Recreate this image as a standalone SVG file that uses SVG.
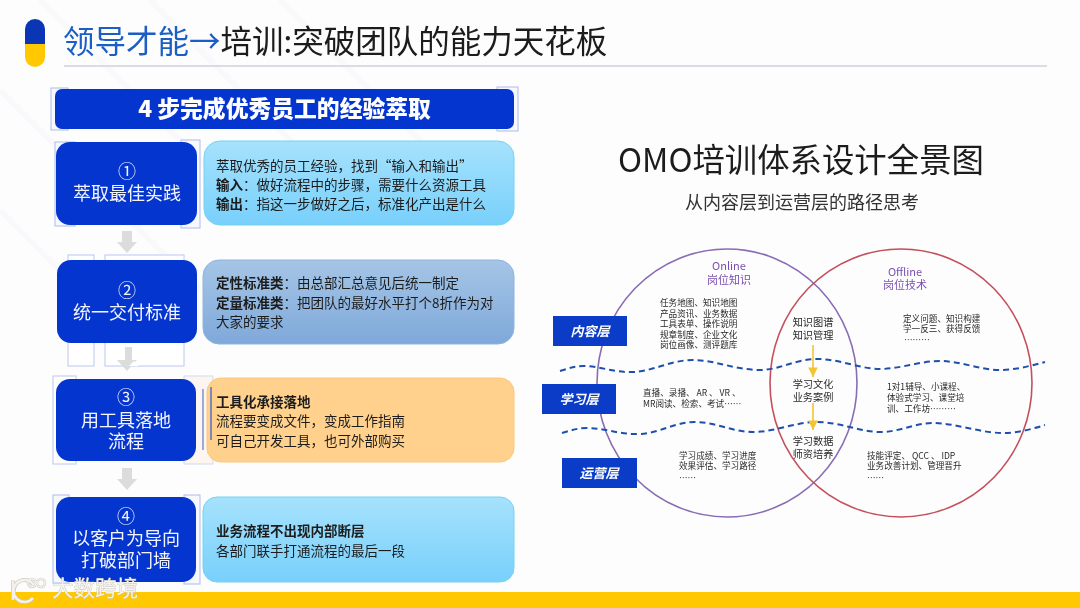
<svg xmlns="http://www.w3.org/2000/svg" width="1080" height="608" viewBox="0 0 1080 608">
<style>
text{font-family:"Noto Sans CJK SC","Noto Sans",sans-serif;filter:url(#soft)}
.step{fill:#0535cf}
.st{fill:#f2f5ff;font-size:18px;text-anchor:middle}
.d{fill:#1c1c1c;font-size:13.5px}
.b{font-weight:700}
.s{fill:#2a2a2a;font-size:8.6px}
.m{fill:#2a2a2a;font-size:10.2px;text-anchor:middle}
.layer{fill:#0a3cc8}
.lt{fill:#fff;font-size:13px;font-weight:700;font-style:italic;text-anchor:middle}
.p{fill:#7a4fb0;font-size:11px;text-anchor:middle}
.h{fill:#f6f8fe;stroke:#aebce8;stroke-width:1}
.hw{fill:#fff;stroke:#bcc8ec;stroke-width:1}
.ar{fill:#dcdcdc}
.wave{fill:none;stroke:#1f4fae;stroke-width:2;stroke-dasharray:6 4}
.y{stroke:#f4c430;stroke-width:1.6;fill:none;marker-end:url(#yh)}
</style>
<defs>
<filter id="soft" x="-5%" y="-20%" width="110%" height="140%"><feGaussianBlur stdDeviation="0.35"/></filter>
<linearGradient id="g1" x1="0" y1="0" x2="0" y2="1"><stop offset="0" stop-color="#a6e2fd"/><stop offset="1" stop-color="#78d0fb"/></linearGradient>
<linearGradient id="g2" x1="0" y1="0" x2="0" y2="1"><stop offset="0" stop-color="#a5c5e6"/><stop offset="1" stop-color="#7fa9da"/></linearGradient>
<marker id="yh" markerWidth="7" markerHeight="6" refX="6" refY="3" orient="auto"><path d="M0 0L6 3L0 6Z" fill="#f4c430"/></marker>
</defs>
<rect width="1080" height="608" fill="#fdfdfe"/>
<g id="background-stripes" stroke="#f9f9fb" stroke-width="6" fill="none">
<path d="M40 0L240 200M150 0L350 200M0 90L200 290M280 0L500 220M0 210L130 340"/>
</g>
<g id="header">
<path d="M25 44V29a10 10 0 0 1 20 0V44Z" fill="#0a35b5"/>
<path d="M25 44V57a10 10 0 0 0 20 0V44Z" fill="#ffc800"/>
<text x="63" y="53" font-size="31.5" fill="#1b5fc4">领导才能→<tspan fill="#1a1a1a">培训:突破团队的能力天花板</tspan></text>
<rect x="64" y="65" width="983" height="2" fill="#dcdde4"/>
</g>
<g id="banner">
<rect class="h" x="51" y="88" width="17" height="42"/>
<rect class="h" x="497" y="87" width="21" height="44"/>
<rect x="55" y="89" width="459" height="40" rx="7" fill="#0535cf"/>
<text x="284.500" y="117" text-anchor="middle" font-size="22.800" font-weight="900" fill="#fff">4 步完成优秀员工的经验萃取</text>
</g>
<g id="connectors">
<path class="ar" d="M122 231H132V242H137L127 253L117 242H122Z"/>
<path class="ar" d="M122 468H132V479H137L127 490L117 479H122Z"/>
</g>
<g id="step1">
<rect class="h" x="55" y="142" width="20" height="84"/>
<rect class="h" x="181" y="140" width="19" height="88"/>
<rect class="step" x="56" y="142" width="141" height="83" rx="14"/>
<text class="st" x="127" y="178">①</text>
<text class="st" x="127" y="200">萃取最佳实践</text>
<rect x="204" y="141" width="310" height="84" rx="16" fill="url(#g1)" stroke="#74d3ee"/>
<text class="d" x="216" y="171">萃取优秀的员工经验，找到“输入和输出”</text>
<text class="d" x="216" y="190"><tspan class="b">输入</tspan>：做好流程中的步骤，需要什么资源工具</text>
<text class="d" x="216" y="209"><tspan class="b">输出</tspan>：指这一步做好之后，标准化产出是什么</text>
</g>
<g id="step2">
<rect class="hw" x="68" y="255" width="26" height="111"/>
<rect class="hw" x="105" y="255" width="79" height="111"/>
<path class="ar" d="M125 347H132V360H137L127 371L117 360H125Z"/>
<path d="M129 366H139L134 361Z" fill="#fff"/>
<rect class="step" x="57" y="260" width="140" height="83" rx="14"/>
<text class="st" x="127" y="297">②</text>
<text class="st" x="127" y="319">统一交付标准</text>
<rect x="203" y="260" width="311" height="84" rx="16" fill="url(#g2)" stroke="#8fb4dc"/>
<text class="d" x="216" y="288"><tspan class="b">定性标准类</tspan>：由总部汇总意见后统一制定</text>
<text class="d" x="216" y="308"><tspan class="b">定量标准类</tspan>：把团队的最好水平打个8折作为对</text>
<text class="d" x="216" y="327">大家的要求</text>
</g>
<g id="step3">
<rect class="hw" x="53" y="376" width="23" height="88"/>
<rect x="184" y="376" width="29" height="88" fill="#fdf6f0" stroke="#d2d9f0"/>
<rect class="step" x="56" y="379" width="140" height="82" rx="14"/>
<text class="st" x="126" y="404">③</text>
<text class="st" x="126" y="427">用工具落地</text>
<text class="st" x="126" y="448">流程</text>
<rect x="207" y="378" width="307" height="84" rx="14" fill="#ffd18c" stroke="#fbc878"/>
<path d="M203 389V450" stroke="#5a76d0" stroke-width="1.2"/>
<path d="M211 387V440" stroke="#4a68c8" stroke-width="1.4"/>
<text class="d b" x="216" y="407">工具化承接落地</text>
<text class="d" x="216" y="426">流程要变成文件，变成工作指南</text>
<text class="d" x="216" y="446">可自己开发工具，也可外部购买</text>
</g>
<g id="step4">
<rect class="h" x="53" y="495" width="16" height="88" fill="#fff"/>
<rect class="h" x="184" y="495" width="16" height="89"/>
<rect class="step" x="56" y="497" width="140" height="85" rx="14"/>
<text class="st" x="126" y="523">④</text>
<text class="st" x="126" y="545">以客户为导向</text>
<text class="st" x="126" y="567">打破部门墙</text>
<rect x="203" y="497" width="311" height="85" rx="14" fill="url(#g1)" stroke="#74d3ee"/>
<text class="d b" x="216" y="536">业务流程不出现内部断层</text>
<text class="d" x="216" y="556">各部门联手打通流程的最后一段</text>
</g>
<g id="title-right">
<text x="801" y="172" font-size="32.400" text-anchor="middle" fill="#1a1a1a">OMO培训体系设计全景图</text>
<text x="802" y="209" font-size="18" text-anchor="middle" fill="#333">从内容层到运营层的路径思考</text>
</g>
<g id="venn" fill="none">
<ellipse id="circle-online" cx="727" cy="383" rx="130" ry="134" stroke="#8a6cb4" stroke-width="1.6"/>
<ellipse id="circle-offline" cx="901" cy="383" rx="131" ry="134" stroke="#c4505c" stroke-width="1.6"/>
</g>
<g id="waves">
<path class="wave" d="M560 371C570 368 575 366 583 366C600 366 615 373 633 372C655 371 670 360 693 360C715 360 735 370 760 370C780 370 795 359 817 359C840 359 860 369 880 369C900 369 920 361 940 361C960 361 980 370 1000 370C1015 370 1030 366 1045 362"/>
<path class="wave" stroke-dasharray="3.5 3.5" d="M562 433C572 430 578 428 587 428C605 428 620 435 640 434C660 433 675 422 695 422C715 422 733 432 753 432C775 432 795 422 817 422C840 422 860 432 880 432C900 432 915 423 933 423C955 423 980 433 1003 433C1018 433 1032 429 1045 425"/>
</g>
<g id="layer-content"><rect class="layer" x="553" y="316" width="74" height="30"/><text class="lt" x="590" y="336">内容层</text></g>
<g id="layer-learning"><rect class="layer" x="542" y="384" width="74" height="30"/><text class="lt" x="579" y="404">学习层</text></g>
<g id="layer-operation"><rect class="layer" x="562" y="458" width="75" height="30"/><text class="lt" x="599" y="478">运营层</text></g>
<g id="online-labels">
<text class="p" x="729" y="270">Online</text>
<text class="p" x="729" y="284">岗位知识</text>
<text class="s" x="660" y="306">任务地图、知识地图</text>
<text class="s" x="660" y="317">产品资讯、业务数据</text>
<text class="s" x="660" y="327">工具表单、操作说明</text>
<text class="s" x="660" y="338">规章制度、企业文化</text>
<text class="s" x="660" y="348">岗位画像、测评题库</text>
<text class="s" x="643" y="396">直播、录播、 AR 、 VR 、</text>
<text class="s" x="643" y="407">MR阅读、检索、考试……</text>
<text class="s" x="679" y="459">学习成绩、学习进度</text>
<text class="s" x="679" y="469">效果评估、学习路径</text>
<text class="s" x="679" y="481">……</text>
</g>
<g id="overlap-labels">
<text class="m" x="813" y="326">知识图谱</text>
<text class="m" x="813" y="339">知识管理</text>
<path class="y" d="M813 345V377"/>
<text class="m" x="813" y="388">学习文化</text>
<text class="m" x="813" y="401">业务案例</text>
<path class="y" d="M813 403V430"/>
<text class="m" x="813" y="445">学习数据</text>
<text class="m" x="813" y="458">师资培养</text>
</g>
<g id="offline-labels">
<text class="p" x="905" y="276">Offline</text>
<text class="p" x="905" y="289">岗位技术</text>
<text class="s" x="903" y="322">定义问题、知识构建</text>
<text class="s" x="903" y="332">学一反三、获得反馈</text>
<text class="s" x="904" y="343">………</text>
<text class="s" x="887" y="390">1对1辅导、小课程、</text>
<text class="s" x="887" y="401">体验式学习、课堂培</text>
<text class="s" x="887" y="412">训、工作坊………</text>
<text class="s" x="867" y="459">技能评定、 QCC 、 IDP</text>
<text class="s" x="867" y="469">业务改善计划、管理晋升</text>
<text class="s" x="867" y="481">……</text>
</g>
<g id="footer">
<rect y="592" width="1080" height="16" fill="#ffc800"/>
<g fill="none" stroke="#c9c6bd" stroke-width="4" opacity=".9">
<path d="M13 580V600"/><path d="M33 584A11 11 0 1 0 33 598"/>
<circle cx="32" cy="583" r="4" stroke-width="2.500"/><circle cx="41" cy="583" r="4" stroke-width="2.500"/>
</g>
<g fill="none" stroke="#f5f2ea" stroke-width="2.500">
<path d="M13 580V600"/><path d="M33 584A11 11 0 1 0 33 598"/>
<circle cx="32" cy="583" r="4" stroke-width="1.500"/><circle cx="41" cy="583" r="4" stroke-width="1.500"/>
</g>
<text x="52" y="596" font-size="21.500" fill="#f5f2ea" stroke="#bdbab0" stroke-width=".6" paint-order="stroke">大数跨境</text>
</g>
</svg>
